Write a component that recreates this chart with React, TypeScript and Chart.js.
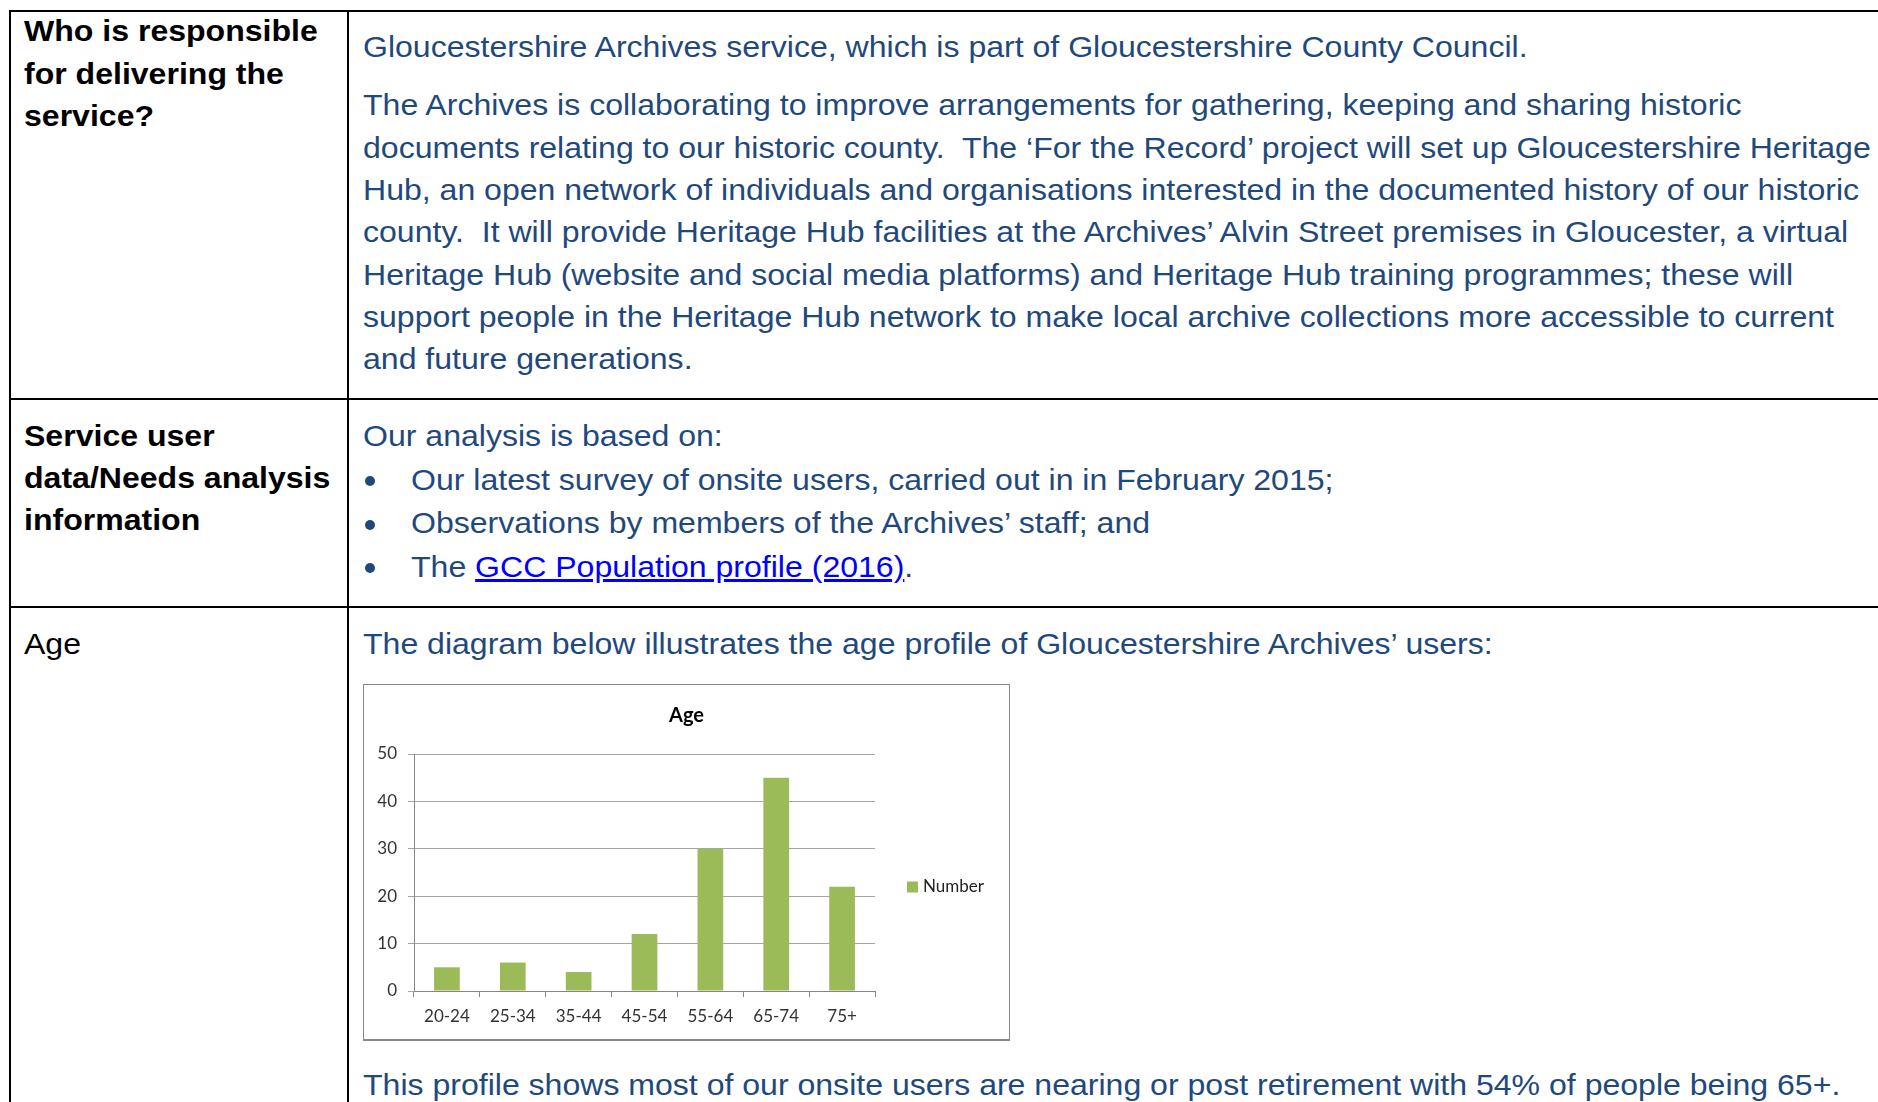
import React, { useEffect, useRef } from "react";
import { Chart, registerables } from "chart.js";

Chart.register(...registerables);

// ---- chart data ----
const CHART_TITLE = "Age";
const AGE_GROUPS = ["20-24", "25-34", "35-44", "45-54", "55-64", "65-74", "75+"];
const NUMBERS = [5, 6, 4, 12, 30, 45, 22];
const SERIES_LABEL = "Number";
const Y_MIN = 0;
const Y_MAX = 50;
const Y_STEP = 10;

// ---- document text ----
const ROW1_HEAD = ["Who is responsible", "for delivering the", "service?"];
const ROW1_LEAD = "Gloucestershire Archives service, which is part of Gloucestershire County Council.";
const ROW1_PARA = [
  "The Archives is collaborating to improve arrangements for gathering, keeping and sharing historic",
  "documents relating to our historic county.  The \u2018For the Record\u2019 project will set up Gloucestershire Heritage",
  "Hub, an open network of individuals and organisations interested in the documented history of our historic",
  "county.  It will provide Heritage Hub facilities at the Archives\u2019 Alvin Street premises in Gloucester, a virtual",
  "Heritage Hub (website and social media platforms) and Heritage Hub training programmes; these will",
  "support people in the Heritage Hub network to make local archive collections more accessible to current",
  "and future generations.",
];
const ROW2_HEAD = ["Service user", "data/Needs analysis", "information"];
const ROW2_LEAD = "Our analysis is based on:";
const ROW2_BULLETS = [
  "Our latest survey of onsite users, carried out in in February 2015;",
  "Observations by members of the Archives\u2019 staff; and",
];
const ROW2_LAST_PREFIX = "The ";
const ROW2_LINK = "GCC Population profile (2016)";
const ROW2_LAST_SUFFIX = ".";
const ROW3_HEAD = "Age";
const ROW3_LEAD = "The diagram below illustrates the age profile of Gloucestershire Archives\u2019 users:";
const ROW3_TAIL = "This profile shows most of our onsite users are nearing or post retirement with 54% of people being 65+.";

const BLUE = "#1F497D";
const FS = 30;
const SX = 1.068;
const FONT = "'Liberation Sans', Arial, sans-serif";

function Line(props: { x: number; baseline: number; bold?: boolean; color?: string; children: any }) {
  const { x, baseline, bold, color, children } = props;
  return (
    <div
      style={{
        position: "absolute",
        left: x,
        top: baseline - 0.8465 * FS,
        fontFamily: FONT,
        fontSize: FS,
        lineHeight: FS + "px",
        fontWeight: bold ? 700 : 400,
        color: color || "#000",
        whiteSpace: "pre",
        transform: `scaleX(${SX})`,
        transformOrigin: "0 0",
      }}
    >
      {children}
    </div>
  );
}

function HLine({ y }: { y: number }) {
  return <div style={{ position: "absolute", left: 9, top: y - 1, width: 1878, height: 2, background: "#000" }} />;
}
function VLine({ x }: { x: number }) {
  return <div style={{ position: "absolute", left: x - 1, top: 10, width: 2, height: 1200, background: "#000" }} />;
}

function AgeChart() {
  const ref = useRef<HTMLCanvasElement | null>(null);
  useEffect(() => {
    if (!ref.current) return;
    const tickFont = { family: "Lato, 'Open Sans', sans-serif", size: 17 };
    const overlay = {
      id: "overlay",
      afterDraw(chart: any) {
        const ctx = chart.ctx;
        const area = chart.chartArea;
        ctx.save();
        ctx.fillStyle = "#000";
        ctx.font = "bold 20px Lato, sans-serif";
        ctx.textAlign = "center";
        ctx.textBaseline = "middle";
        ctx.fillText(CHART_TITLE, chart.width / 2, 31);
        const ds = chart.data.datasets[0];
        const lx = area.right + 32;
        const ly = 202;
        ctx.fillStyle = ds.backgroundColor;
        ctx.fillRect(lx, ly - 5.5, 11, 11);
        ctx.fillStyle = "#222";
        ctx.font = "17px Lato, sans-serif";
        ctx.textAlign = "left";
        ctx.fillText(ds.label, lx + 16, ly);
        ctx.restore();
      },
    };
    const chart = new Chart(ref.current, {
      type: "bar",
      data: {
        labels: AGE_GROUPS,
        datasets: [
          {
            label: SERIES_LABEL,
            data: NUMBERS,
            backgroundColor: "#9BBB59",
            categoryPercentage: 1,
            barPercentage: 0.39,
          },
        ],
      },
      options: {
        animation: false,
        responsive: false,
        maintainAspectRatio: false,
        layout: { padding: { left: 0, right: 134, top: 69, bottom: 0 } },
        plugins: {
          legend: { display: false },
          title: { display: false },
          tooltip: { enabled: false },
        },
        scales: {
          x: {
            grid: { display: true, drawOnChartArea: false, drawTicks: true, tickLength: 6, color: "#868686", offset: true },
            border: { display: true, color: "#868686" },
            ticks: { font: tickFont, color: "#333", padding: 9, maxRotation: 0 },
            afterFit: (s: any) => {
              s.height = 48;
            },
          },
          y: {
            min: Y_MIN,
            max: Y_MAX,
            ticks: { stepSize: Y_STEP, font: tickFont, color: "#333", padding: 11 },
            grid: { color: "#a6a6a6", tickLength: 6 },
            border: { display: true, color: "#868686" },
            afterFit: (s: any) => {
              s.width = 50;
            },
          },
        },
      },
      plugins: [overlay],
    } as any);
    return () => chart.destroy();
  }, []);
  return <canvas ref={ref} width={645} height={354} style={{ display: "block", width: 645, height: 354 }} />;
}

export default function App() {
  const para1 = [115.7, 158, 200.3, 242.6, 284.9, 327.2, 369.5];
  const head1 = [41.7, 84, 126.3];
  const head2 = [446, 488.3, 530.6];
  const bullets = [490, 533.5, 577];
  return (
    <div
      style={{
        position: "fixed",
        left: 0,
        top: 0,
        width: 1878,
        height: 1102,
        overflow: "hidden",
        background: "#fff",
      }}
    >
      <HLine y={11} />
      <HLine y={398.5} />
      <HLine y={607} />
      <VLine x={10} />
      <VLine x={347.5} />

      {ROW1_HEAD.map((t, i) => (
        <Line key={"h1" + i} x={24} baseline={head1[i]} bold>
          {t}
        </Line>
      ))}
      <Line x={363} baseline={57.3} color={BLUE}>
        {ROW1_LEAD}
      </Line>
      {ROW1_PARA.map((t, i) => (
        <Line key={"p1" + i} x={363} baseline={para1[i]} color={BLUE}>
          {t}
        </Line>
      ))}

      {ROW2_HEAD.map((t, i) => (
        <Line key={"h2" + i} x={24} baseline={head2[i]} bold>
          {t}
        </Line>
      ))}
      <Line x={363} baseline={446} color={BLUE}>
        {ROW2_LEAD}
      </Line>
      {bullets.map((b, i) => (
        <div
          key={"dot" + i}
          style={{ position: "absolute", left: 365, top: b - 14, width: 10, height: 10, borderRadius: 5, background: BLUE }}
        />
      ))}
      {ROW2_BULLETS.map((t, i) => (
        <Line key={"b" + i} x={411} baseline={bullets[i]} color={BLUE}>
          {t}
        </Line>
      ))}
      <Line x={411} baseline={bullets[2]} color={BLUE}>
        {ROW2_LAST_PREFIX}
        <span style={{ color: "#0000FF", textDecoration: "underline" }}>{ROW2_LINK}</span>
        {ROW2_LAST_SUFFIX}
      </Line>

      <Line x={24} baseline={654}>
        {ROW3_HEAD}
      </Line>
      <Line x={363} baseline={654} color={BLUE}>
        {ROW3_LEAD}
      </Line>

      <div
        style={{
          position: "absolute",
          left: 363,
          top: 684,
          width: 645,
          height: 354,
          borderLeft: "1px solid #888",
          borderTop: "1px solid #888",
          borderRight: "1px solid #888",
          borderBottom: "2px solid #888",
          background: "#fff",
        }}
      >
        <AgeChart />
      </div>

      <Line x={363} baseline={1095} color={BLUE}>
        {ROW3_TAIL}
      </Line>
    </div>
  );
}
